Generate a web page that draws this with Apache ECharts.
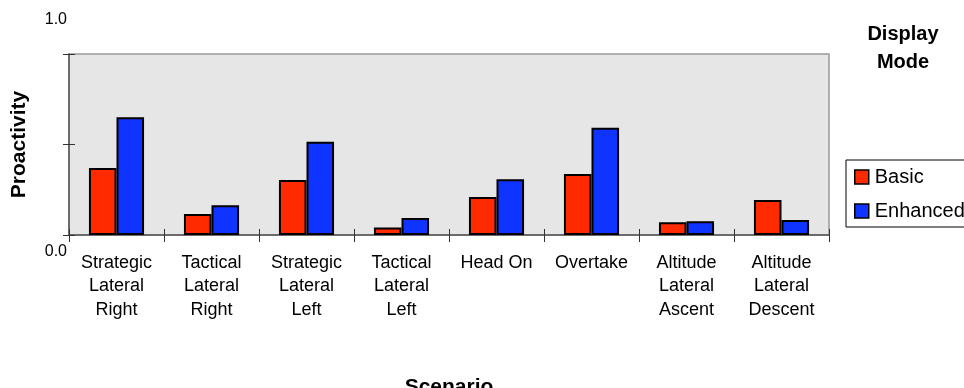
<!DOCTYPE html>
<html>
<head>
<meta charset="utf-8">
<script src="https://cdn.jsdelivr.net/npm/echarts@6/dist/echarts.min.js"></script>
<style>
  html, body { margin: 0; padding: 0; background: #fff; }
  #chart { width: 964px; height: 388px; }
</style>
</head>
<body>
<div id="chart"></div>
<script>
const scenarios = [
  'Strategic\nLateral\nRight',
  'Tactical\nLateral\nRight',
  'Strategic\nLateral\nLeft',
  'Tactical\nLateral\nLeft',
  'Head On',
  'Overtake',
  'Altitude\nLateral\nAscent',
  'Altitude\nLateral\nDescent'
];
const basicValues = [0.37, 0.116, 0.304, 0.042, 0.21, 0.337, 0.07, 0.193];
const enhancedValues = [0.65, 0.164, 0.515, 0.094, 0.308, 0.593, 0.076, 0.083];
const seriesNames = ['Basic', 'Enhanced'];
const yTickLabels = { 0: '0.0', 1: '1.0' };
const legendTitleLines = ['Display', 'Mode'];

const FONT = '"Liberation Sans", Arial, sans-serif';
const chart = echarts.init(document.getElementById('chart'), null, { renderer: 'canvas' });

const barStyle = (color) => ({ color: color, borderColor: '#000', borderWidth: 2 });

// Legend heading, one centred line per entry
const headingGraphics = legendTitleLines.map((line, i) => ({
  type: 'text',
  x: 903, y: 34 + i * 28,
  style: {
    text: line, fontFamily: FONT, fontSize: 20, fontWeight: 'bold',
    fill: '#000', align: 'center', textAlign: 'center',
    verticalAlign: 'middle', textVerticalAlign: 'middle'
  }
}));

chart.setOption({
  animation: false,
  textStyle: { fontFamily: FONT },
  grid: {
    left: 69, right: 135, top: 54, bottom: 153,
    containLabel: false,
    outerBoundsMode: 'none',
    show: true, backgroundColor: '#e6e6e6', borderColor: '#999', borderWidth: 1.5
  },
  legend: {
    orient: 'vertical',
    left: 846, top: 160,
    data: seriesNames,
    backgroundColor: '#fff',
    borderColor: '#000', borderWidth: 1,
    padding: [7, 6, 6, 8],
    itemGap: 14,
    itemWidth: 14, itemHeight: 14,
    icon: 'rect',
    itemStyle: { borderColor: '#000', borderWidth: 1.5 },
    textStyle: { fontFamily: FONT, fontSize: 20, color: '#000', padding: [0, 0, 0, 1] }
  },
  xAxis: [
    {
      type: 'category',
      data: scenarios,
      name: 'Scenario',
      nameLocation: 'middle',
      nameGap: 142,
      nameTextStyle: { fontFamily: FONT, fontSize: 21, fontWeight: 'bold', color: '#000' },
      axisLine: { lineStyle: { color: '#555', width: 1.5 } },
      axisTick: { show: true, length: 7, lineStyle: { color: '#333' } },
      axisLabel: { fontFamily: FONT, fontSize: 18, color: '#000', lineHeight: 23.5, margin: 16, interval: 0 }
    },
    {
      type: 'category',
      data: scenarios,
      position: 'bottom',
      axisLine: { show: false },
      axisTick: { show: true, inside: true, length: 6, lineStyle: { color: '#333' } },
      axisLabel: { show: false }
    }
  ],
  yAxis: [
    {
      type: 'value',
      min: 0, max: 1, interval: 0.5,
      name: 'Proactivity',
      nameLocation: 'middle',
      nameGap: 39,
      nameTextStyle: { fontFamily: FONT, fontSize: 21, fontWeight: 'bold', color: '#000' },
      splitLine: { show: false },
      axisLine: { show: true, lineStyle: { color: '#555', width: 1.5 } },
      axisTick: { show: true, length: 6, lineStyle: { color: '#333' } },
      axisLabel: {
        fontFamily: FONT, fontSize: 16, color: '#000', margin: 2,
        formatter: (v) => v === 1 ? '{top|' + yTickLabels[1] + '}' : (v === 0 ? '{bot|' + yTickLabels[0] + '}' : ''),
        rich: {
          top: { fontFamily: FONT, fontSize: 16, color: '#000', padding: [0, 0, 68, 0] },
          bot: { fontFamily: FONT, fontSize: 16, color: '#000', padding: [34, 0, 0, 0] }
        }
      }
    },
    {
      type: 'value',
      min: 0, max: 1, interval: 0.5,
      position: 'left',
      splitLine: { show: false },
      axisLine: { show: false },
      axisTick: { show: true, inside: true, length: 6, lineStyle: { color: '#333' } },
      axisLabel: { show: false }
    }
  ],
  graphic: headingGraphics,
  series: [
    {
      name: seriesNames[0], type: 'bar', data: basicValues,
      barGap: '0%', barCategoryGap: '42%',
      itemStyle: barStyle('#ff2a00')
    },
    {
      name: seriesNames[1], type: 'bar', data: enhancedValues,
      barGap: '0%', barCategoryGap: '42%',
      itemStyle: barStyle('#1034ff')
    }
  ]
});
</script>
</body>
</html>
